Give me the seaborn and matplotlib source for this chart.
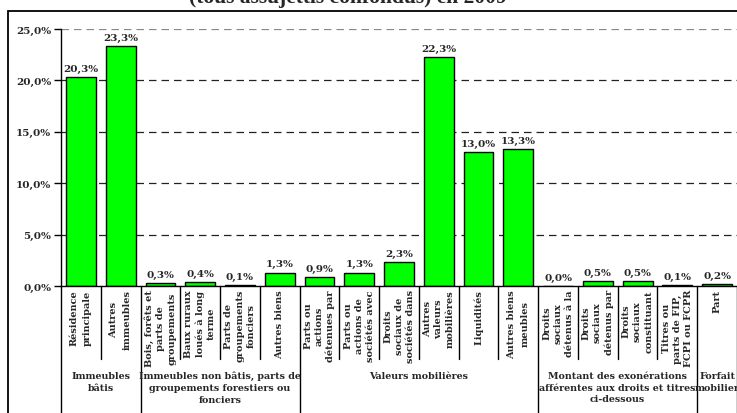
import matplotlib
matplotlib.use("Agg")
import matplotlib.pyplot as plt
import matplotlib.transforms as mtransforms
from matplotlib.patches import Rectangle
import seaborn as sns
import pandas as pd

# data
categories = ["Résidence\nprincipale", "Autres\nimmeubles",
              "Bois, forêts et\nparts de\ngroupements", "Baux ruraux\nloués à long\nterme",
              "Parts de\ngroupements\nfonciers", "Autres biens",
              "Parts ou\nactions\ndétenues par", "Parts ou\nactions de\nsociétés avec",
              "Droits\nsociaux de\nsociétés dans", "Autres\nvaleurs\nmobilières",
              "Liquidités", "Autres biens\nmeubles",
              "Droits\nsociaux\ndétenus à la", "Droits\nsociaux\ndétenus par",
              "Droits\nsociaux\nconstituant", "Titres ou\nparts de FIP,\nFCPI ou FCPR",
              "Part"]
values = [20.3, 23.3, 0.3, 0.4, 0.1, 1.3, 0.9, 1.3, 2.3, 22.3, 13.0, 13.3,
          0.0, 0.5, 0.5, 0.1, 0.2]
groups = ["Immeubles\nbâtis",
          "Immeubles non bâtis, parts de\ngroupements forestiers ou\nfonciers",
          "Valeurs mobilières",
          "Montant des exonérations\nafférentes aux droits et titres\nci-dessous",
          "Forfait\nmobilier"]
group_sizes = [2, 4, 6, 4, 1]
yticks = [0, 5, 10, 15, 20, 25]
title = "(tous assujettis confondus) en 2009"

sns.set_style("white")
plt.rcParams['font.family'] = ['DejaVu Serif']
plt.rcParams['font.weight'] = 'bold'

df = pd.DataFrame({'cat': categories, 'val': values})

fig = plt.figure(figsize=(7.37, 4.14), dpi=100)
ax = fig.add_axes([61/737, 1 - 287/414, 1 - 61/737, 257/414])

sns.barplot(data=df, x='cat', y='val', color='#00FF00', saturation=1,
            edgecolor='black', linewidth=1, width=0.75, ax=ax)

ax.set_xlim(-0.5, len(categories) - 0.5)
ax.set_ylim(0, 25)
ax.set_yticks(yticks)
ax.set_yticklabels([f"{t:.1f}%".replace('.', ',') for t in yticks], fontsize=7.5, fontweight='bold')
ax.tick_params(axis='y', direction='out', length=5, width=1, color='black', pad=2, left=True)
ax.set_xticks([])
ax.set_xlabel('')
ax.set_ylabel('')
for s in ['top', 'right']:
    ax.spines[s].set_visible(False)
ax.spines['left'].set_color('black')
ax.spines['bottom'].set_color('black')
ax.spines['left'].set_linewidth(1)
ax.spines['bottom'].set_linewidth(1)

# dashed grid, top line lighter like the reference
for t in yticks[1:]:
    col = '#888888' if t == 25 else '#222222'
    ax.axhline(t, color=col, lw=0.9, ls=(0, (6, 4)), zorder=0)

labels = [f"{v:.1f}%".replace('.', ',') for v in values]
ax.bar_label(ax.containers[0], labels=labels, padding=3, fontsize=7.5, fontweight='bold')

trans = mtransforms.blended_transform_factory(ax.transData, ax.transAxes)
for i, c in enumerate(categories):
    nlines = c.count('\n') + 1
    ls = 1.6 if nlines == 2 else 1.3
    ax.text(i, -0.012, c, transform=trans, rotation=90, ha='center', va='top',
            multialignment='center', fontsize=7, fontweight='bold', linespacing=ls,
            clip_on=False)

# separators under the axis
start = 0
bounds = [-0.5]
for gs in group_sizes:
    start += gs
    bounds.append(start - 0.5)
for i in range(len(categories) + 1):
    x = i - 0.5
    bottom = -0.8 if x in bounds else -0.284
    ax.plot([x, x], [0, bottom], transform=trans, color='black', lw=1, clip_on=False)

start = 0
for g, gs in zip(groups, group_sizes):
    center = start + gs / 2 - 0.5
    ax.text(center, -0.33, g, transform=trans, ha='center', va='top',
            multialignment='center', fontsize=6.8, fontweight='bold', linespacing=1.4,
            clip_on=False)
    start += gs

# title sits mostly above the picture, as in the reference
fig.text(348/737, 1 - 3.5/414, title, ha='center', va='baseline', fontsize=15.5,
         fontweight='bold', family='Liberation Serif')

fig.patches.append(Rectangle((8/737, -0.1), 1.2, 1 - 12/414 + 0.1, transform=fig.transFigure,
                             fill=False, edgecolor='black', lw=1.3))

fig.savefig('out.png', dpi=100)
